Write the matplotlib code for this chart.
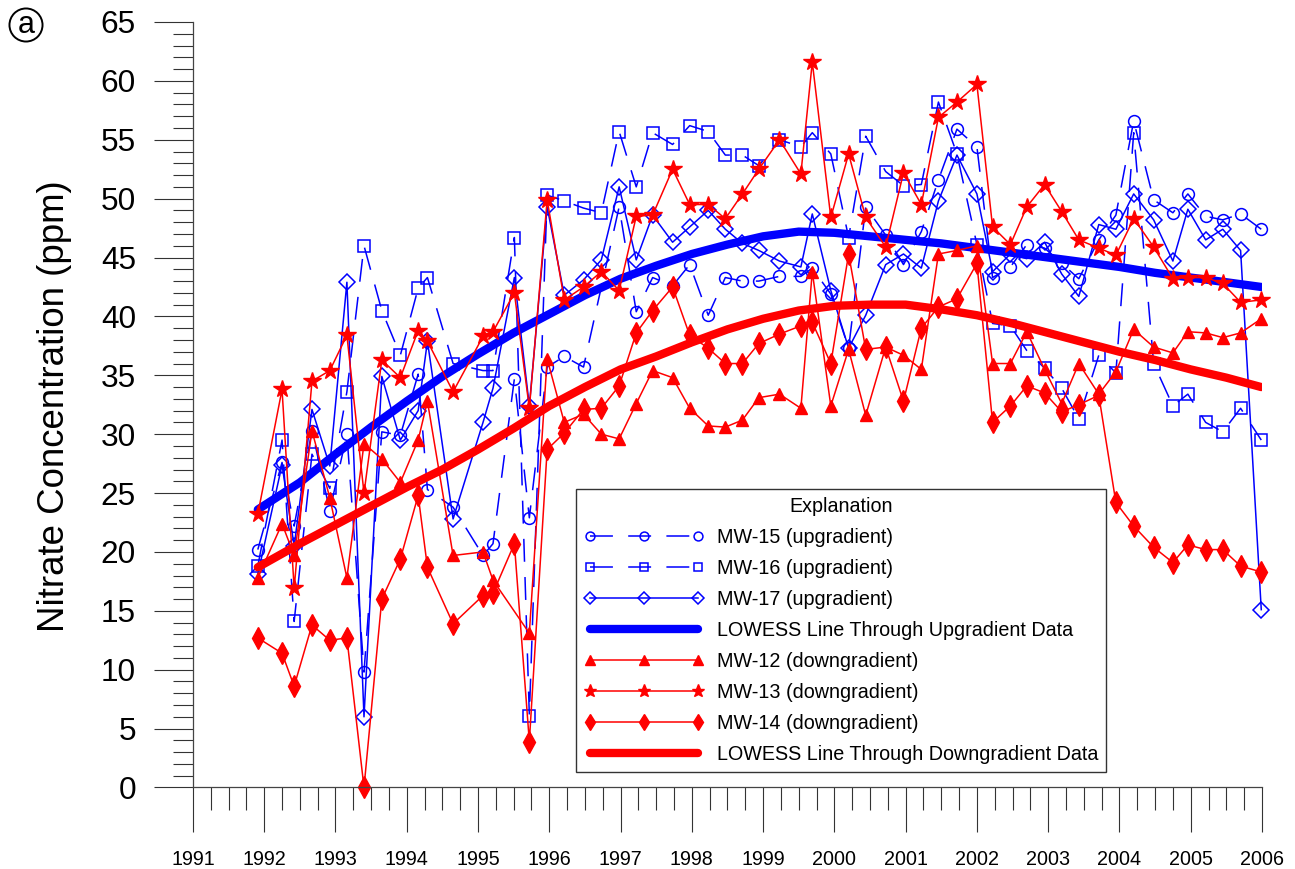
import numpy as np
import matplotlib
matplotlib.use("Agg")
from matplotlib import pyplot as plt
from matplotlib.ticker import MultipleLocator

plt.rcParams['font.family'] = ['Liberation Sans', 'DejaVu Sans']

# sampling dates (decimal years), one value per date in each well list, None = not sampled
dates = [1991.91, 1992.25, 1992.42, 1992.67, 1992.92, 1993.16, 1993.40, 1993.65, 1993.91, 1994.16,
         1994.29, 1994.65, 1995.07, 1995.21, 1995.51, 1995.72, 1995.97, 1996.21, 1996.48, 1996.73,
         1996.98, 1997.22, 1997.45, 1997.73, 1997.97, 1998.23, 1998.47, 1998.71, 1998.94, 1999.23,
         1999.53, 1999.69, 1999.95, 2000.20, 2000.44, 2000.72, 2000.97, 2001.22, 2001.46, 2001.72,
         2002.00, 2002.22, 2002.47, 2002.70, 2002.95, 2003.19, 2003.43, 2003.71, 2003.95, 2004.20,
         2004.48, 2004.75, 2004.96, 2005.21, 2005.45, 2005.70, 2005.99]

mw15 = [20.2, 27.6, 22.2, 30.3, 23.5, 30.0, 9.8, 30.2, 29.9, 35.1,
        25.3, 23.8, 19.7, 20.7, 34.7, 22.9, 35.7, 36.6, 35.7, None,
        49.3, 40.4, 43.3, 42.6, 44.4, 40.1, 43.3, 43.0, 43.0, 43.4,
        43.4, 44.1, 41.9, 37.3, 49.3, 46.9, 44.4, 47.2, 51.6, 55.9,
        54.4, 43.3, 44.2, 46.1, 45.8, 44.5, 43.2, 46.5, 48.6, 56.6,
        49.9, 48.8, 50.4, 48.5, 48.2, 48.7, 47.4]
mw16 = [18.8, 29.5, 14.1, 28.3, 25.4, 33.6, 46.0, 40.5, 36.7, 42.4,
        43.3, 36.0, 35.4, 35.4, 46.7, 6.1, 50.3, 49.8, 49.2, 48.8,
        55.7, 51.0, 55.6, 54.6, 56.2, 55.7, 53.7, 53.7, 52.8, 55.0,
        54.4, 55.6, 53.8, 46.7, 55.3, 52.3, 51.1, 51.2, 58.2, 53.8,
        46.1, 39.4, 39.2, 37.1, 35.6, 33.9, 31.3, 36.7, 35.2, 55.6,
        36.0, 32.4, 33.4, 31.0, 30.2, 32.2, 29.5]
mw17 = [18.1, 27.4, 20.5, 32.1, 27.3, 42.9, 6.0, 34.9, 29.5, 32.0,
        37.9, 22.8, 31.0, 33.9, 43.3, 32.4, 49.3, 41.8, 43.1, 44.8,
        51.0, 44.8, 48.6, 46.3, 47.6, 49.0, 47.4, 46.2, 45.6, 44.7,
        44.2, 48.7, 42.2, 37.3, 40.1, 44.4, 45.3, 44.1, 49.8, 53.7,
        50.4, 43.8, 45.3, 44.9, 46.3, 43.6, 41.7, 47.8, 47.4, 50.4,
        48.2, 44.7, 49.1, 46.5, 47.4, 45.6, 15.1]
mw12 = [17.8, 22.4, 19.7, 30.3, 24.6, 17.8, 29.2, 27.9, 25.9, 29.5,
        32.8, 19.7, 20.0, 17.6, None, 13.1, 36.4, 31.0, 31.7, 30.0,
        29.6, 32.6, 35.4, 34.8, 32.2, 30.7, 30.6, 31.2, 33.1, 33.4,
        32.2, 43.8, 32.4, 37.2, 31.6, 37.4, 36.7, 35.5, 45.3, 45.6,
        46.0, 36.0, 36.0, 38.7, 35.5, 32.6, 36.0, 33.4, 35.3, 38.9,
        37.4, 36.9, 38.7, 38.6, 38.2, 38.6, 39.8]
mw13 = [23.2, 33.8, 16.9, 34.5, 35.4, 38.4, 25.0, 36.3, 34.8, 38.8,
        37.9, 33.6, 38.3, 38.7, 42.0, 32.2, 49.9, 41.4, 42.5, 43.8,
        42.2, 48.5, 48.6, 52.5, 49.5, 49.5, 48.3, 50.4, 52.5, 55.0,
        52.1, 61.6, 48.4, 53.8, 48.4, 45.9, 52.2, 49.5, 56.9, 58.2,
        59.7, 47.6, 46.1, 49.3, 51.2, 48.9, 46.5, 45.8, 45.2, 48.3,
        45.9, 43.2, 43.3, 43.3, 42.8, 41.2, 41.4]
mw14 = [12.7, 11.4, 8.6, 13.8, 12.5, 12.7, 0.0, 16.0, 19.4, 24.8,
        18.7, 13.9, 16.3, 16.5, 20.7, 3.9, 28.7, 30.1, 32.1, 32.2,
        34.1, 38.6, 40.5, 42.5, 38.4, 37.3, 36.0, 36.0, 37.7, 38.5,
        39.2, 39.5, 36.0, 45.3, 37.2, 37.4, 32.8, 39.0, 40.8, 41.5,
        44.5, 31.0, 32.4, 34.1, 33.5, 31.9, 32.5, 33.3, 24.2, 22.2,
        20.4, 19.1, 20.6, 20.2, 20.2, 18.8, 18.3]

lowess_years = [1991.91, 1992.5, 1993.0, 1993.5, 1994.0, 1994.5, 1995.0, 1995.5, 1996.0, 1996.5,
                1997.0, 1997.5, 1998.0, 1998.5, 1999.0, 1999.5, 2000.0, 2000.5, 2001.0, 2001.5,
                2002.0, 2002.5, 2003.0, 2003.5, 2004.0, 2004.5, 2005.0, 2005.5, 2005.99]
lowess_up = [23.6, 25.9, 28.3, 30.6, 32.8, 34.9, 36.8, 38.6, 40.2, 41.8,
             43.2, 44.3, 45.3, 46.1, 46.8, 47.2, 47.1, 46.8, 46.5, 46.2,
             45.8, 45.4, 45.0, 44.6, 44.2, 43.7, 43.3, 42.9, 42.5]
lowess_down = [18.7, 20.7, 22.3, 23.9, 25.5, 27.0, 28.7, 30.5, 32.4, 34.0,
               35.5, 36.6, 37.8, 38.9, 39.8, 40.5, 40.9, 41.0, 41.0, 40.6,
               40.1, 39.4, 38.6, 37.8, 37.0, 36.3, 35.5, 34.8, 34.0]

years = list(range(1991, 2007))


def pts(vals):
    x = np.array(dates)
    y = np.array([np.nan if v is None else v for v in vals], dtype=float)
    m = ~np.isnan(y)
    return x[m], y[m]


blue = '#0000ff'
red = '#ff0000'
dash = (0, (15, 10))

fig = plt.figure(figsize=(12.95, 8.69), dpi=100)
ax = fig.add_axes([0.149, 0.0938, 0.8255, 0.8809])

ax.plot(*pts(mw15), color=blue, lw=1.1, ls=dash, marker='o', ms=8.5, mfc='none',
        mec=blue, mew=1.1, clip_on=False, label='MW-15 (upgradient)')
ax.plot(*pts(mw16), color=blue, lw=1.1, ls=dash, marker='s', ms=8.5, mfc='none',
        mec=blue, mew=1.1, clip_on=False, label='MW-16 (upgradient)')
ax.plot(*pts(mw17), color=blue, lw=1.1, marker='D', ms=8, mfc='none',
        mec=blue, mew=1.1, clip_on=False, label='MW-17 (upgradient)')
ax.plot(lowess_years, lowess_up, color=blue, lw=6, solid_capstyle='round',
        label='LOWESS Line Through Upgradient Data')
ax.plot(*pts(mw12), color=red, lw=1.1, marker='^', ms=9, mfc=red, mec=red,
        clip_on=False, label='MW-12 (downgradient)')
ax.plot(*pts(mw13), color=red, lw=1.1, marker='*', ms=13, mfc=red, mec=red,
        clip_on=False, label='MW-13 (downgradient)')
ax.plot(*pts(mw14), color=red, lw=1.1, marker='d', ms=11, mfc=red, mec=red,
        clip_on=False, label='MW-14 (downgradient)')
ax.plot(lowess_years, lowess_down, color=red, lw=6, solid_capstyle='round',
        label='LOWESS Line Through Downgradient Data')

ax.set_xlim(1991, 2006)
ax.set_ylim(0, 65)
ax.set_xticks(years)
ax.set_xticklabels([str(y) for y in years])
ax.xaxis.set_minor_locator(MultipleLocator(0.25))
ax.yaxis.set_major_locator(MultipleLocator(5))
ax.yaxis.set_minor_locator(MultipleLocator(1))

for s in ['top', 'right']:
    ax.spines[s].set_visible(False)
for s in ['left', 'bottom']:
    ax.spines[s].set_color('#444444')
    ax.spines[s].set_linewidth(0.9)

ax.tick_params(axis='x', which='major', length=32.4, width=0.8, pad=12.5, labelsize=14.2, color='#333333')
ax.tick_params(axis='x', which='minor', length=16.6, width=0.8, color='#333333')
ax.tick_params(axis='y', which='major', length=28, width=0.8, pad=13, labelsize=22.7, color='#333333')
ax.tick_params(axis='y', which='minor', length=14.4, width=0.8, color='#333333')

fig.text(55 / 1295, 1 - 406 / 869, 'Nitrate Concentration (ppm)', rotation=90,
         ha='center', va='center', fontsize=26.4)

fig.text(26 / 1295, 1 - 25 / 869, 'a', ha='center', va='center', fontsize=22,
         bbox=dict(boxstyle='circle,pad=0.05', fc='white', ec='black', lw=1.4))

leg = ax.legend(loc='lower left', bbox_to_anchor=(0.3583, 0.0202), borderaxespad=0,
                title='Explanation', fontsize=14.2, title_fontsize=14.2,
                frameon=True, fancybox=False, edgecolor='#333333', framealpha=1,
                borderpad=0.4, labelspacing=0.61, handlelength=6.1, handletextpad=0.66,
                numpoints=3, markerscale=0.75)
leg.get_frame().set_linewidth(1.0)

fig.savefig('out.png', dpi=100)
